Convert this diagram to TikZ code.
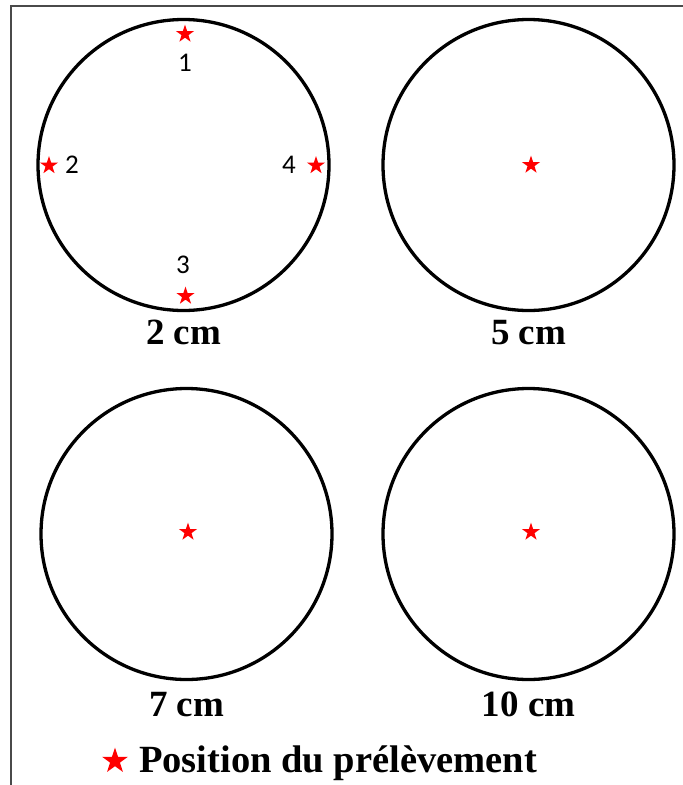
\documentclass[tikz,border=0pt]{standalone}
\usepackage{fontspec}
\setmainfont{Liberation Serif}
\newfontfamily\numfont{Carlito}
\usetikzlibrary{positioning,shapes.geometric}
\definecolor{starred}{HTML}{FF0000}
\definecolor{framegray}{HTML}{4A4A4A}
\tikzset{ring/.style={circle,draw=black,line width=3.3pt,minimum size=291pt,inner sep=0pt},
  mark star/.style={star,star points=5,star point ratio=2.6,fill=starred,draw=none,inner sep=0pt,minimum size=19pt},
  size label/.style={font=\fontsize{37}{40}\selectfont\bfseries,inner sep=0pt},
  num/.style={font=\numfont\fontsize{27}{29}\selectfont,inner sep=0pt}}

\begin{document}
\begin{tikzpicture}[x=1pt,y=-1pt]
\useasboundingbox (0,0) rectangle (683,785);
\draw[framegray,line width=1.5pt] (11,785) -- (11,6) -- (683,6);
% les quatre disques
\node[ring] (d2) at (183.5,165) {};
\node[ring] (d5) at (528.5,165) {};
\node[ring] (d7) at (186.5,534) {};
\node[ring] (d10) at (528.5,534) {};
\node[size label,below=8pt of d2] (l2) {2 cm};
\node[size label,below=8pt of d5] (l5) {5 cm};
\node[size label,below=11pt of d7] (l7) {7 cm};
\node[size label,below=11pt of d10] (l10) {10 cm};
% points de prelevement
\node[mark star] (p1) at (185,34) {};
\node[mark star] (p2) at (49,165.5) {};
\node[mark star] (p3) at (185.5,296) {};
\node[mark star] (p4) at (316,165.5) {};
\node[num] (n1) at (185,63) {1};
\node[num] (n2) at (72,165) {2};
\node[num] (n3) at (183,265) {3};
\node[num] (n4) at (289,165) {4};
\node[mark star] (s5) at (531,165) {};
\node[mark star] (s7) at (188,532) {};
\node[mark star] (s10) at (531,532) {};
% legende
\node[mark star,minimum size=27pt] (lstar) at (115,761) {};
\node[size label,font=\fontsize{38.5}{41}\selectfont\bfseries,anchor=base west] (legend) at (139,772) {Position du prélèvement};
\end{tikzpicture}
\end{document}
